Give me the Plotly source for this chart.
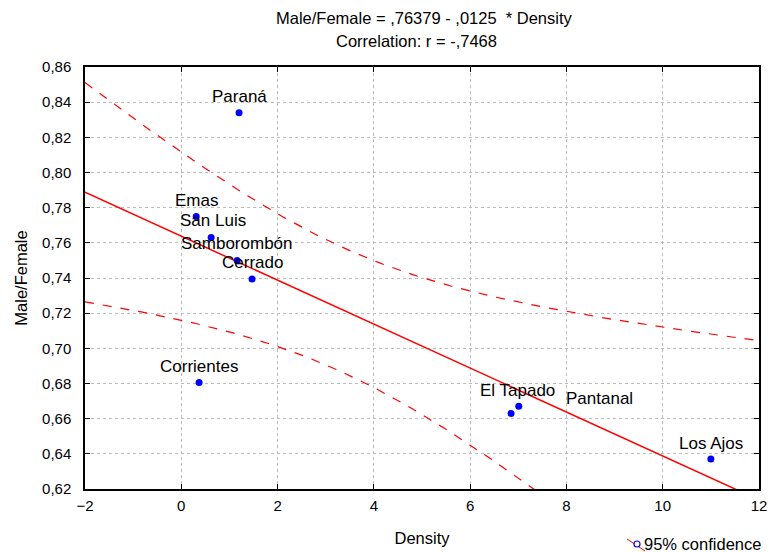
import numpy as np
import plotly.graph_objects as go

# data
sites = ['Paraná', 'Emas', 'San Luis', 'Samborombón', 'Cerrado',
         'Corrientes', 'El Tapado', 'Pantanal', 'Los Ajos']
density = [1.20, 0.31, 0.62, 1.16, 1.47, 0.37, 6.85, 7.01, 11.0]
male_female = [0.834, 0.775, 0.763, 0.750, 0.7395, 0.6805, 0.663, 0.667, 0.637]

intercept = 0.76379
slope = -0.0125

# label offsets (px) so text sits like the original
label_shift = {
    'Paraná': (0, 16), 'Emas': (0, 16), 'San Luis': (2, 17),
    'Samborombón': (0, 17), 'Cerrado': (0, 16), 'Corrientes': (0, 16),
    'El Tapado': (6, 23), 'Pantanal': (81, 8), 'Los Ajos': (0, 16),
}

x = np.array(density)
y = np.array(male_female)
n = len(x)
resid = y - (intercept + slope * x)
s = np.sqrt((resid ** 2).sum() / (n - 2))
sxx = ((x - x.mean()) ** 2).sum()
t975 = 2.3646  # t(0.975, df=7)

xs = np.linspace(-2, 12, 200)
fit = intercept + slope * xs
half = t975 * s * np.sqrt(1 / n + (xs - x.mean()) ** 2 / sxx)

font = 'Liberation Sans, Arial, sans-serif'
black = 'black'
fig = go.Figure()

fig.add_trace(go.Scatter(x=xs, y=fit, mode='lines', line=dict(color='red', width=1.5),
                         showlegend=False, hoverinfo='skip'))
fig.add_trace(go.Scatter(x=xs, y=fit + half, mode='lines',
                         line=dict(color='red', width=1.2, dash='dash'),
                         showlegend=False, hoverinfo='skip'))
fig.add_trace(go.Scatter(x=xs, y=fit - half, mode='lines',
                         line=dict(color='red', width=1.2, dash='dash'),
                         showlegend=False, hoverinfo='skip'))
fig.add_trace(go.Scatter(x=density, y=male_female, mode='markers',
                         marker=dict(color='blue', size=7), text=sites,
                         showlegend=False))

for name, xv, yv in zip(sites, density, male_female):
    dx, dy = label_shift[name]
    fig.add_annotation(x=xv, y=yv, text=name, showarrow=False, xshift=dx, yshift=dy,
                       font=dict(size=17, color=black, family=font))

# title lines
fig.add_annotation(x=0.503, y=1.116, xref='paper', yref='paper', showarrow=False,
                   text='Male/Female = ,76379 - ,0125  * Density', yanchor='middle',
                   font=dict(size=16.5, color=black, family=font))
fig.add_annotation(x=0.492, y=1.062, xref='paper', yref='paper', showarrow=False,
                   text='Correlation: r = -,7468', yanchor='middle',
                   font=dict(size=16.5, color=black, family=font))

# legend drawn by hand (the plotly legend pushes the margins)
fig.add_shape(type='line', xref='paper', yref='paper', x0=0.8042, y0=-0.1185,
              x1=0.8309, y1=-0.1469, line=dict(color='red', width=1))
fig.add_shape(type='circle', xref='paper', yref='paper', x0=0.8145, x1=0.8235,
              y0=-0.1374, y1=-0.1232, line=dict(color='blue', width=1.2),
              fillcolor='white')
fig.add_annotation(x=0.826, y=-0.1303, xref='paper', yref='paper', showarrow=False,
                   text='95% confidence', xanchor='left', yanchor='middle',
                   font=dict(size=16.5, color=black, family=font))

axis_common = dict(showline=True, linecolor=black, linewidth=1.5, mirror='ticks',
                   ticks='inside', ticklen=5, tickcolor=black, automargin=False,
                   showgrid=True, gridcolor='#bbbbbb', griddash='dot', gridwidth=1,
                   zeroline=False, tickfont=dict(size=15, color=black, family=font))

fig.update_xaxes(range=[-2, 12], dtick=2, tick0=0, ticklabelstandoff=2,
                 title=dict(text='Density', standoff=20,
                            font=dict(size=16.5, color=black, family=font)), **axis_common)
fig.update_yaxes(range=[0.62, 0.86], dtick=0.02, tick0=0.62, tickformat='.2f',
                 ticklabelstandoff=9,
                 title=dict(text='Male/Female', standoff=10,
                            font=dict(size=16.5, color=black, family=font)), **axis_common)

fig.update_layout(
    width=771, height=552,
    separators=', ',
    paper_bgcolor='white', plot_bgcolor='white',
    margin=dict(l=85, r=12, t=67, b=63),
    showlegend=False,
)

# drop the page's default 8px body margin so the figure fills the window
fig.write_html('out.html', config={'displayModeBar': False},
               post_script="document.body.style.margin='0';document.body.style.overflow='hidden';")
